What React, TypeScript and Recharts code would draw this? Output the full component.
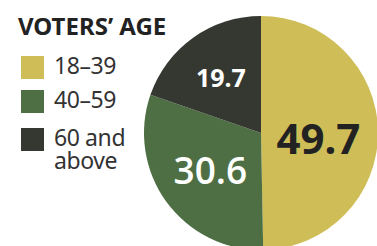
import { PieChart, Pie, Cell } from "recharts";

// Voters by age group (%)
const ageGroups = ["18–39", "40–59", "60 and above"];
const shares = [49.7, 30.6, 19.7];
const sliceColors = ["#cfbd57", "#4e6f43", "#353731"];

const data = ageGroups.map((name, i) => ({ name, value: shares[i] }));

// label look per slice
const labelRadius = [0.49, 0.535, 0.59];
const labelShiftY = [5, 0, 0];
const labelSize = [42, 37, 25];
const labelWeight = [700, 600, 700];
const labelFont = ["'Noto Sans'", "'Open Sans'", "'Noto Sans'"];
const labelFill = ["#222222", "#ffffff", "#ffffff"];

const RADIAN = Math.PI / 180;

const renderLabel = ({ cx, cy, midAngle, outerRadius, index, value }: any) => {
  const r = outerRadius * labelRadius[index];
  const x = cx + r * Math.cos(-midAngle * RADIAN);
  const y = cy + r * Math.sin(-midAngle * RADIAN) + labelShiftY[index];
  return (
    <text
      x={x}
      y={y}
      textAnchor="middle"
      dominantBaseline="central"
      fill={labelFill[index]}
      fontSize={labelSize[index]}
      fontWeight={labelWeight[index]}
      fontFamily={`${labelFont[index]}, sans-serif`}
    >
      {value.toFixed(1)}
    </text>
  );
};

export default function App() {
  return (
    <div style={{ position: "absolute", left: 0, top: 0, width: 377, height: 246, background: "#fff", overflow: "hidden" }}>
      <div
        style={{
          position: "absolute",
          left: 18,
          top: 9,
          fontFamily: "'Noto Sans', sans-serif",
          fontWeight: 700,
          fontSize: 24,
          letterSpacing: 0,
          color: "#222",
          zIndex: 2,
        }}
      >
        VOTERS’ AGE
      </div>
      <div
        style={{
          position: "absolute",
          left: 21,
          top: 56,
          fontFamily: "'Noto Sans', sans-serif",
          color: "#333",
          zIndex: 2,
        }}
      >
        {data.map((d, i) => (
          <div key={d.name} style={{ display: "flex", alignItems: "flex-start", marginBottom: i === 0 ? 11 : 15 }}>
            <div style={{ width: 23, height: 23, background: sliceColors[i], flexShrink: 0 }} />
            <div style={{ marginLeft: 10, marginTop: -2, fontSize: 23, lineHeight: "23px", width: 80, letterSpacing: -0.4 }}>
              {d.name}
            </div>
          </div>
        ))}
      </div>
      <PieChart width={377} height={246} margin={{ top: 0, right: 0, bottom: 0, left: 0 }}>
        <Pie
          data={data}
          dataKey="value"
          nameKey="name"
          cx={261}
          cy={133}
          outerRadius={117}
          startAngle={90}
          endAngle={-270}
          stroke="none"
          labelLine={false}
          label={renderLabel}
          isAnimationActive={false}
        >
          {data.map((d, i) => (
            <Cell key={d.name} fill={sliceColors[i]} />
          ))}
        </Pie>
      </PieChart>
    </div>
  );
}
